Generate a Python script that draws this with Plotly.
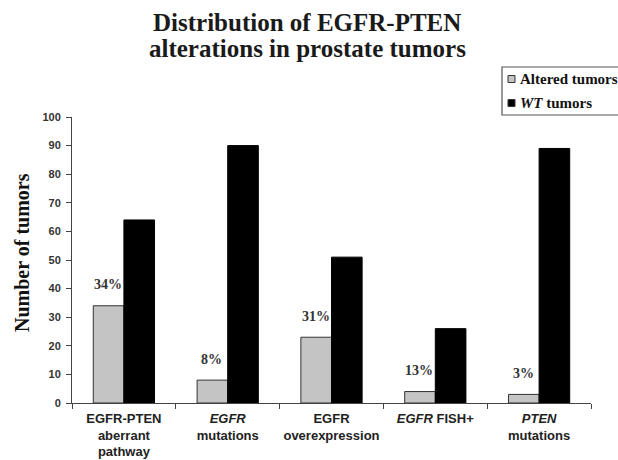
import plotly.graph_objects as go

categories = ["EGFR-PTEN<br>aberrant<br>pathway", "<i>EGFR</i><br>mutations", "EGFR<br>overexpression",
              "<i>EGFR</i> FISH+", "<i>PTEN</i><br>mutations"]
altered = [34, 8, 23, 4, 3]
wt = [64, 90, 51, 26, 89]
pct_labels = ["34%", "8%", "31%", "13%", "3%"]
y_ticks = [0, 10, 20, 30, 40, 50, 60, 70, 80, 90, 100]
title_lines = ["Distribution of EGFR-PTEN", "alterations in prostate tumors"]
y_title = "Number of tumors"
legend_names = ["Altered tumors", "<i>WT</i> tumors"]
series_colors = ["#c4c4c4", "#000000"]

W, H = 618, 460
ML, MR, MT, MB = 72, 27, 117, 57
PW, PH = W - ML - MR, H - MT - MB


def px(x):
    return (x - ML) / PW


def py(y):
    return (H - MB - y) / PH


fig = go.Figure()
fig.add_trace(go.Bar(x=categories, y=altered, name=legend_names[0],
                     marker=dict(color=series_colors[0], line=dict(color="#333333", width=1))))
fig.add_trace(go.Bar(x=categories, y=wt, name=legend_names[1],
                     marker=dict(color=series_colors[1], line=dict(color="#000000", width=1))))

for c, v, t in zip(categories, altered, pct_labels):
    fig.add_annotation(x=c, y=v, text="<b>" + t + "</b>", showarrow=False,
                       xshift=-16, yshift=21, yanchor="middle",
                       font=dict(family="Liberation Serif", size=14, color="#333333"))

# title (two lines, tight spacing)
for i, line in enumerate(title_lines):
    fig.add_annotation(xref="paper", yref="paper", x=px(307), y=py(22 + 26 * i),
                       text=line, showarrow=False, xanchor="center", yanchor="middle",
                       font=dict(family="Liberation Serif", size=25, color="#1a1a1a", weight="bold"))

# y-axis title
fig.add_annotation(xref="paper", yref="paper", x=px(22), y=py(253), text="<b>" + y_title + "</b>",
                   textangle=-90, showarrow=False, xanchor="center", yanchor="middle",
                   font=dict(family="Liberation Serif", size=20, color="#111111"))

# custom legend
fig.add_shape(type="rect", xref="paper", yref="paper", x0=px(502), x1=px(630),
              y0=py(115), y1=py(67), line=dict(color="#555555", width=1.2), fillcolor="white")
for i, (name, col) in enumerate(zip(legend_names, series_colors)):
    yc = 79 + 24 * i
    fig.add_shape(type="rect", xref="paper", yref="paper", x0=px(508), x1=px(515),
                  y0=py(yc + 3.5), y1=py(yc - 3.5), line=dict(color="#333333", width=1), fillcolor=col)
    fig.add_annotation(xref="paper", yref="paper", x=px(518), y=py(yc), text="<b>" + name + "</b>",
                       showarrow=False, xanchor="left", yanchor="middle",
                       font=dict(family="Liberation Serif", size=15, color="#111111"))

fig.update_layout(
    width=W, height=H,
    margin=dict(l=ML, r=MR, t=MT, b=MB, autoexpand=False),
    paper_bgcolor="white", plot_bgcolor="white",
    barmode="group", bargap=0.41, bargroupgap=0,
    showlegend=False,
)
fig.update_xaxes(type="category", showline=True, linecolor="#444444", linewidth=1,
                 ticks="outside", tickson="boundaries", ticklen=5, tickcolor="#444444",
                 tickangle=0, ticklabelstandoff=3,
                 tickfont=dict(family="Arial", size=13, color="#222222", weight="bold"),
                 showgrid=False)
fig.update_yaxes(range=[0, 100], tickvals=y_ticks, showline=True, linecolor="#444444", linewidth=1,
                 ticks="outside", ticklen=5, tickcolor="#444444", showgrid=False, zeroline=False,
                 ticklabelstandoff=3,
                 tickfont=dict(family="Arial", size=11, color="#333333", weight="bold"))

fig.write_html("out.html", config={"displayModeBar": False},
               post_script="document.body.style.margin='0';")
